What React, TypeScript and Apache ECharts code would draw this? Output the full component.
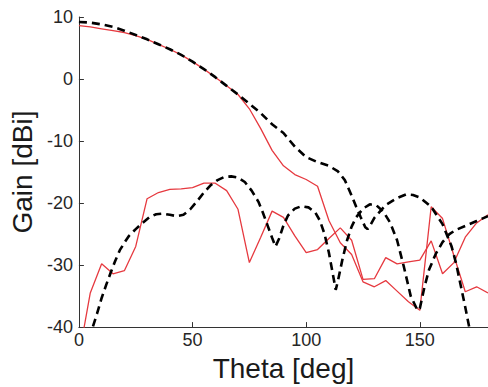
import React, { useEffect, useRef } from "react";
import * as echarts from "echarts";

// Measured samples (every 5 degrees)
const measuredTheta = [
  0, 5, 10, 15, 20, 25, 30, 35, 40, 45, 50, 55, 60, 65, 70, 75, 80, 85, 90,
  95, 100, 105, 110, 115, 120, 125, 130, 135, 140, 145, 150, 155, 160, 165,
  170, 175, 180,
];
const coPolMeasured = [
  8.6, 8.4, 8.1, 7.8, 7.5, 7.0, 6.4, 5.6, 4.8, 3.9, 2.8, 1.6, 0.3, -1.1, -2.5,
  -4.8, -8.0, -11.5, -14.0, -15.4, -16.2, -17.3, -22.8, -26.4, -28.3, -32.7,
  -33.5, -32.5, -34.2, -35.9, -37.3, -20.6, -22.5, -28.5, -34.3, -33.5, -34.5,
];
const crossPolMeasured = [
  -44.7, -34.5, -29.8, -31.4, -30.9, -27.0, -19.3, -18.3, -17.8, -17.7, -17.5,
  -16.8, -16.8, -18.0, -21.0, -29.6, -25.5, -21.3, -22.3, -25.3, -28.0, -27.5,
  -25.7, -24.0, -26.0, -32.3, -32.2, -28.8, -29.8, -29.5, -29.2, -26.1, -31.4,
  -29.6, -25.5, -23.2, -21.9,
];

// Simulated curves
const coPolSimTheta = [
  0, 5, 10, 15, 20, 25, 30, 35, 40, 45, 50, 55, 60, 65, 70, 75, 80, 85, 90, 95,
  100, 105, 110, 114, 117, 120, 122, 124, 126, 127, 128, 130, 135, 140, 144,
  147, 150, 155, 160, 164, 166, 168, 170, 172, 174,
];
const coPolSim = [
  9.2, 9.1, 8.8, 8.4, 7.8, 7.1, 6.4, 5.6, 4.8, 3.9, 2.8, 1.6, 0.3, -1.1, -2.5,
  -4.0, -5.5, -7.3, -8.7, -10.9, -12.6, -13.4, -14.0, -14.9, -16.3, -18.8,
  -20.6, -22.3, -23.9, -24.2, -23.7, -22.4, -20.3, -19.2, -18.6, -18.7, -19.1,
  -20.6, -23.4, -27.0, -29.8, -33.3, -36.8, -40.5, -45,
];
const crossPolSimTheta = [
  4, 6, 8, 10, 12, 14, 16, 18, 20, 22, 25, 28, 31, 34, 37, 40, 43, 46, 49, 52,
  55, 58, 61, 64, 67, 70, 73, 76, 79, 81, 83, 85, 86.5, 88, 90, 92, 95, 98, 101,
  104, 106, 108, 110, 112, 113, 114, 116, 118, 120, 122, 125, 128, 131, 134,
  137, 140, 143, 146, 149, 150, 152, 154, 157, 160, 163, 166, 170, 175, 180,
];
const crossPolSim = [
  -44, -40.1, -37.8, -35.3, -33.2, -31.2, -29.3, -27.6, -26.4, -25.3, -24.2,
  -23.2, -22.3, -21.8, -21.7, -21.9, -22.1, -21.9, -21.0, -19.7, -18.3, -17.1,
  -16.3, -15.8, -15.7, -15.9, -16.6, -18.0, -19.8, -21.6, -23.6, -25.6, -27.0,
  -25.8, -23.6, -22.0, -20.9, -20.5, -20.7, -21.5, -22.8, -24.9, -28.0, -32.0,
  -34.0, -32.5, -29.0, -26.0, -23.8, -22.3, -20.9, -20.2, -20.4, -21.4, -23.2,
  -26.0, -30.3, -35.0, -37.3, -37.0, -33.6, -30.8, -28.2, -26.3, -25.0, -24.3,
  -23.7, -22.9, -22.1,
];

const xName = "Theta [deg]";
const yName = "Gain [dBi]";

const zip = (xs: number[], ys: number[]) => xs.map((x, i) => [x, ys[i]]);

const FONT = "'Liberation Sans', Arial, Helvetica, sans-serif";
const RED = "#e6393f";
const AXIS = "#333333";

export default function App() {
  const ref = useRef<HTMLDivElement>(null);
  useEffect(() => {
    if (!ref.current) return;
    const chart = echarts.init(ref.current, undefined, { renderer: "svg" });
    const redLine = { color: RED, width: 1.3 };
    const dashLine = { color: "#000", width: 2.6, type: [8, 5] as any };
    chart.setOption({
      animation: false,
      backgroundColor: "#ffffff",
      grid: { left: 78, top: 17, width: 412, height: 316 },
      xAxis: {
        type: "value",
        min: 0,
        max: 180,
        interval: 50,
        name: xName,
        nameLocation: "middle",
        nameGap: 22,
        nameTextStyle: {
          fontFamily: FONT,
          fontSize: 28,
          color: "#1a1a1a",
          verticalAlign: "top",
        },
        axisLine: { onZero: false, lineStyle: { color: AXIS, width: 1 } },
        axisTick: { inside: true, length: 5, lineStyle: { color: AXIS } },
        axisLabel: {
          fontFamily: FONT,
          fontSize: 18,
          color: "#262626",
          margin: 4,
          showMaxLabel: false,
        },
        splitLine: { show: false },
      },
      yAxis: {
        type: "value",
        min: -40,
        max: 10,
        interval: 10,
        name: yName,
        nameLocation: "middle",
        nameGap: 35,
        nameTextStyle: {
          fontFamily: FONT,
          fontSize: 28,
          color: "#1a1a1a",
        },
        axisLine: { show: true, onZero: false, lineStyle: { color: AXIS, width: 1 } },
        axisTick: { show: true, inside: true, length: 5, lineStyle: { color: AXIS } },
        axisLabel: {
          fontFamily: FONT,
          fontSize: 18,
          color: "#262626",
          margin: 6,
        },
        splitLine: { show: false },
      },
      series: [
        {
          type: "line",
          data: zip(measuredTheta, coPolMeasured),
          showSymbol: false,
          lineStyle: redLine,
          clip: true,
        },
        {
          type: "line",
          data: zip(measuredTheta, crossPolMeasured),
          showSymbol: false,
          lineStyle: redLine,
          clip: true,
        },
        {
          type: "line",
          data: zip(coPolSimTheta, coPolSim),
          showSymbol: false,
          lineStyle: dashLine,
          clip: true,
        },
        {
          type: "line",
          data: zip(crossPolSimTheta, crossPolSim),
          showSymbol: false,
          lineStyle: dashLine,
          clip: true,
        },
      ],
    });
    return () => chart.dispose();
  }, []);
  return (
    <div
      ref={ref}
      style={{ position: "fixed", left: 0, top: 0, width: 488, height: 387, background: "#fff" }}
    />
  );
}
